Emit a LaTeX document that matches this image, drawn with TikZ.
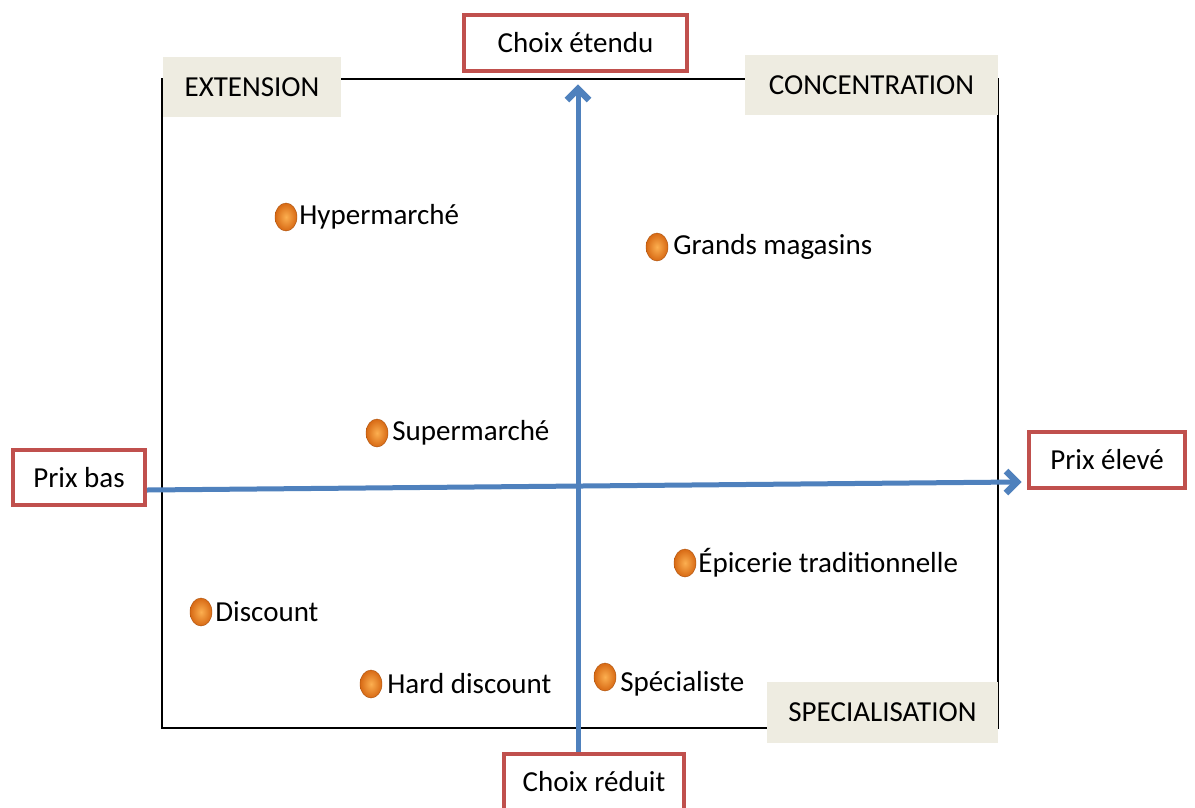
\documentclass[tikz,border=0pt]{standalone}
\usepackage{fontspec}
\setmainfont{Carlito}
\usetikzlibrary{shapes.geometric,positioning,calc}
\definecolor{boxred}{HTML}{C0504D}
\definecolor{axisblue}{HTML}{4F81BD}
\definecolor{beige}{HTML}{EEECE1}
\definecolor{orbin}{RGB}{252,175,80}
\definecolor{orbout}{RGB}{215,105,20}
\begin{document}
\begin{tikzpicture}[x=1pt,y=-1pt,
  every node/.style={font=\fontsize{29}{34}\selectfont, text=black},
  redbox/.style={draw=boxred, line width=4pt, fill=white, inner sep=0pt},
  quad/.style={fill=beige, inner sep=0pt},
  orb/.style={ellipse, minimum width=22pt, minimum height=28pt, inner sep=0pt, shading=radial, inner color=orbin, outer color=orbout, draw=orbout!80!black, line width=0.4pt},
  lbl/.style={anchor=west, inner sep=0pt},
  axis/.style={draw=axisblue, line width=5pt},
  barb/.style={draw=axisblue, line width=6.5pt, line join=miter, line cap=butt}
]
\useasboundingbox (0,0) rectangle (1195,807);
\fill[white] (0,0) rectangle (1195,807);
% frame
\node[draw=black, line width=1.2pt, minimum width=836pt, minimum height=649pt, inner sep=0pt] (frame) at (580,403.5) {};
% quadrant labels
\node[quad, minimum width=178pt, minimum height=60pt] (ext) at (252,87) {EXTENSION};
\node[quad, minimum width=253pt, minimum height=60pt] (conc) at (871.5,85) {CONCENTRATION};
\node[quad, minimum width=231pt, minimum height=61pt] (spec) at (882.5,712.5) {SPECIALISATION};
% axis end boxes
\node[redbox, minimum width=223pt, minimum height=56pt] (etendu) at (575.5,43) {Choix étendu};
\node[redbox, minimum width=180pt, minimum height=56pt] (reduit) at (594,782) {Choix réduit};
\node[redbox, minimum width=132pt, minimum height=55pt] (bas) at (79,477.5) {Prix bas};
\node[redbox, minimum width=156pt, minimum height=56pt] (eleve) at (1107,460) {Prix élevé};
% axes
\coordinate (top) at (578,89);
\coordinate (right) at (1017,482);
\draw[axis] (reduit.north -| top) -- (top);
\draw[barb] ($(top)+(-11,11)$) -- (top) -- ($(top)+(11,11)$);
\draw[axis] (bas.east |- 0,490) -- (right);
\draw[barb] ($(right)+(-11,-11)$) -- (right) -- ($(right)+(-11,11)$);
% points
\node[orb] (hyp) at (286,217) {};
\node[lbl, right=2pt of hyp] {Hypermarché};
\node[orb] (gm) at (657,247) {};
\node[lbl, right=5pt of gm] {Grands magasins};
\node[orb] (sup) at (377,433) {};
\node[lbl, right=4pt of sup] {Supermarché};
\node[orb] (epi) at (685,563) {};
\node[lbl, right=2pt of epi] {Épicerie traditionnelle};
\node[orb] (disc) at (201,612) {};
\node[lbl, right=3pt of disc] {Discount};
\node[orb] (hard) at (371,684) {};
\node[lbl, right=5pt of hard] {Hard discount};
\node[orb] (spe) at (605,677) {};
\node[lbl, right=4pt of spe, yshift=-7pt] {Spécialiste};
\end{tikzpicture}
\end{document}
